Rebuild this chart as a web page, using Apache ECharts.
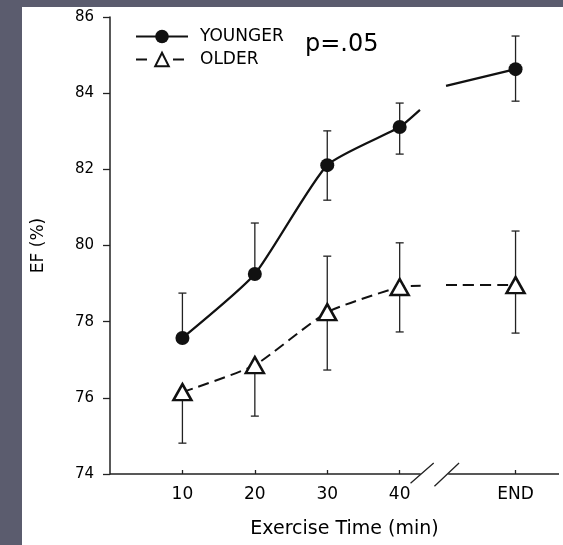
<!DOCTYPE html>
<html><head><meta charset="utf-8">
<script src="https://cdn.jsdelivr.net/npm/echarts@6/dist/echarts.min.js"></script>
<style>
html,body{margin:0;padding:0;background:#5b5c6e;width:563px;height:545px;overflow:hidden}
#c{position:absolute;left:22px;top:7px;width:541px;height:538px;background:#fff}
</style></head><body><div id="c"></div>
<script>
// ---- data ----
const timePoints = [10, 20, 30, 40, 56];          // 56 = where "END" sits on the axis
const tickLabels = ['10', '20', '30', '40', 'END'];
const youngerMean = [77.57, 79.25, 82.11, 83.11, 84.63];
const youngerLow  = [77.57, 79.25, 81.19, 82.40, 83.79];
const youngerHigh = [78.75, 80.59, 83.01, 83.74, 85.50];
const olderMean = [76.15, 76.86, 78.25, 78.91, 78.96];
const olderLow  = [74.81, 75.52, 76.73, 77.73, 77.70];
const olderHigh = [76.15, 76.86, 79.72, 80.07, 80.38];
// where each line stops before and restarts after the axis break
const youngerBreak = [[42.8, 83.56], [46.4, 84.19]];
const olderBreak   = [[42.9, 78.94], [46.4, 78.96]];
// broken x-axis line (data coordinates)
const axisSegments = [[0, 42.9], [46.7, 62]];
const breakSlashes = [[41.5, 73.76, 44.7, 74.29], [44.8, 73.68, 48.2, 74.29]];

const FONT = 'DejaVu Sans';
const INK = '#000';

function lineData(mean, brk) {
  const d = [];
  for (let i = 0; i < 4; i++) d.push([timePoints[i], mean[i]]);
  d.push({ value: brk[0], symbol: 'none' });
  d.push({ value: [44.6, '-'], symbol: 'none' });
  d.push({ value: brk[1], symbol: 'none' });
  d.push([timePoints[4], mean[4]]);
  return d;
}
function errData(mean, lo, hi) {
  return timePoints.map((t, i) => [t, mean[i], lo[i], hi[i]]);
}
function errRender(params, api) {
  const x = api.value(0), m = api.value(1), lo = api.value(2), hi = api.value(3);
  const a = api.coord([x, lo]), b = api.coord([x, hi]);
  const cw = 4;
  const st = { stroke: '#222', lineWidth: 1.3 };
  const ch = [{ type: 'line', shape: { x1: a[0], y1: a[1], x2: b[0], y2: b[1] }, style: st }];
  if (lo < m) ch.push({ type: 'line', shape: { x1: a[0] - cw, y1: a[1], x2: a[0] + cw, y2: a[1] }, style: st });
  if (hi > m) ch.push({ type: 'line', shape: { x1: b[0] - cw, y1: b[1], x2: b[0] + cw, y2: b[1] }, style: st });
  return { type: 'group', children: ch };
}
const axisLineData = [];
axisSegments.forEach((s, i) => {
  if (i > 0) axisLineData.push([s[0] - 1, '-']);
  axisLineData.push([s[0], 74], [s[1], 74]);
});
const slashData = [];
breakSlashes.forEach((s, i) => {
  if (i > 0) slashData.push([s[0] - 0.05, '-']);
  slashData.push([s[0], s[1]], [s[2], s[3]]);
});

const chart = echarts.init(document.getElementById('c'), null, { renderer: 'canvas' });
chart.setOption({
  backgroundColor: '#ffffff',
  animation: false,
  grid: { left: 83, top: 10, right: 4, bottom: 71 },
  title: {
    text: 'p=.05', left: 278, top: 21,
    textStyle: { fontFamily: FONT, fontSize: 24, fontWeight: 'normal', color: INK }
  },
  legend: {
    orient: 'vertical', left: 108, top: 16,
    itemWidth: 52, itemHeight: 17, itemGap: 6,
    textStyle: { fontFamily: FONT, fontSize: 17, color: INK, padding: [0, 0, 0, 7] },
    data: [
      { name: 'YOUNGER' },
      { name: 'OLDER', lineStyle: { type: [11, 26, 11, 200] } }
    ]
  },
  xAxis: {
    type: 'value', min: 0, max: 62,
    name: 'Exercise Time (min)', nameLocation: 'middle', nameGap: 46,
    nameTextStyle: { fontFamily: FONT, fontSize: 19, color: INK, padding: [0, 0, 0, 20] },
    axisLine: { show: false },
    axisTick: { show: true, customValues: timePoints, inside: true, length: 4, lineStyle: { color: '#222', width: 1.3 } },
    axisLabel: {
      customValues: timePoints, margin: 12,
      fontFamily: FONT, fontSize: 17, color: INK,
      formatter: v => tickLabels[timePoints.indexOf(v)] || ''
    },
    splitLine: { show: false }
  },
  yAxis: {
    type: 'value', min: 74, max: 86, interval: 2,
    name: 'EF (%)', nameLocation: 'middle', nameGap: 63, nameRotate: 90,
    nameTextStyle: { fontFamily: FONT, fontSize: 17, color: INK },
    axisLine: { show: true, lineStyle: { color: '#222', width: 1.5 } },
    axisTick: { show: true, inside: false, length: 7, lineStyle: { color: '#222', width: 1.3 } },
    axisLabel: { margin: 16, fontFamily: FONT, fontSize: 15, color: INK },
    splitLine: { show: false }
  },
  series: [
    { type: 'line', name: 'axisline', data: axisLineData, symbol: 'none', clip: false, silent: true,
      lineStyle: { color: '#222', width: 1.5 }, z: 1 },
    { type: 'line', name: 'axisbreak', data: slashData, symbol: 'none', clip: false, silent: true,
      lineStyle: { color: '#222', width: 1.3 }, z: 1 },
    { type: 'custom', name: 'yerr', renderItem: errRender, data: errData(youngerMean, youngerLow, youngerHigh),
      encode: { x: 0, y: [2, 3] }, silent: true, z: 1 },
    { type: 'custom', name: 'oerr', renderItem: errRender, data: errData(olderMean, olderLow, olderHigh),
      encode: { x: 0, y: [2, 3] }, silent: true, z: 1 },
    { type: 'line', name: 'YOUNGER', data: lineData(youngerMean, youngerBreak), smooth: 0.18,
      symbol: 'circle', symbolSize: 14, showAllSymbol: true,
      itemStyle: { color: '#111', borderColor: '#111', borderWidth: 0 },
      lineStyle: { color: '#111', width: 2.2 }, z: 3 },
    { type: 'line', name: 'OLDER', data: lineData(olderMean, olderBreak), smooth: 0.18,
      symbol: 'triangle', symbolSize: [18, 16], showAllSymbol: true,
      itemStyle: { color: '#ffffff', borderColor: '#111', borderWidth: 2.5 },
      lineStyle: { color: '#111', width: 2, type: [11, 6] }, z: 4 }
  ]
});
</script></body></html>
